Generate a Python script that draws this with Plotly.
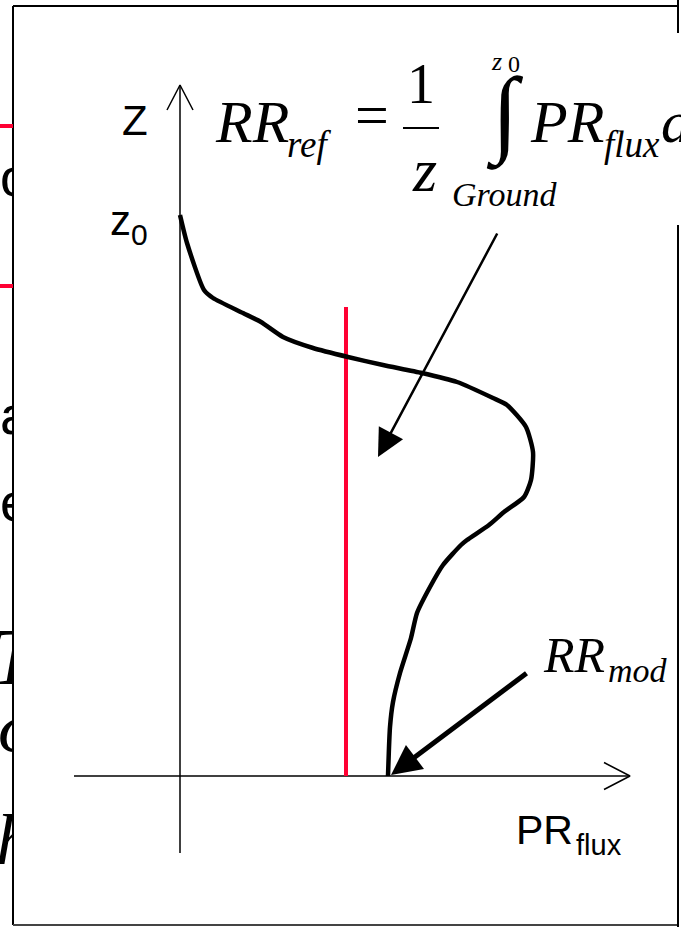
import plotly.graph_objects as go

W, H = 681, 927

# ---- diagram data (diagram units: origin where the PR_flux axis meets the z axis) ----
pr_flux = [0.0, 0.07, 0.24, 0.33, 0.63, 0.81, 1.03, 1.33, 1.68, 2.03, 2.42, 2.77, 3.13, 3.27,
           3.46, 3.53, 3.51, 3.44, 3.24, 3.09, 2.87, 2.81, 2.63, 2.50, 2.37, 2.31, 2.20, 2.13,
           2.10, 2.08]
z_level = [5.61, 5.33, 4.86, 4.78, 4.63, 4.54, 4.39, 4.28, 4.19, 4.11, 4.03, 3.94, 3.78, 3.71,
           3.49, 3.24, 2.96, 2.79, 2.64, 2.51, 2.36, 2.31, 2.11, 1.89, 1.63, 1.38, 1.03, 0.74,
           0.49, 0.0]
rr_ref = 1.66          # vertical red line (reference rain rate)
rr_ref_top = 4.69
pr_axis = [-1.06, 4.50]   # extent of PR_flux axis
z_axis = [-0.77, 6.91]    # extent of z axis

# axis ranges chosen so 1 diagram unit = 100 px
XR = [-1.80, 5.01]
YR = [-1.51, 7.76]

RED = "#FF0033"
SERIF = "Liberation Serif"
SANS = "Liberation Sans"


def P(px, py):
    return px / W, 1 - py / H


fig = go.Figure()

line_k = dict(color="black", width=1.5)
# PR_flux axis with open arrowhead
fig.add_trace(go.Scatter(x=pr_axis, y=[0, 0], mode="lines", line=line_k, hoverinfo="skip"))
fig.add_trace(go.Scatter(x=[pr_axis[1] - 0.26, pr_axis[1], pr_axis[1] - 0.26], y=[0.135, 0, -0.135],
                         mode="lines", line=line_k, hoverinfo="skip"))
# z axis with open arrowhead
fig.add_trace(go.Scatter(x=[0, 0], y=z_axis, mode="lines", line=line_k, hoverinfo="skip"))
fig.add_trace(go.Scatter(x=[-0.13, 0, 0.13], y=[z_axis[1] - 0.25, z_axis[1], z_axis[1] - 0.25],
                         mode="lines", line=line_k, hoverinfo="skip"))
# reference rain rate (red)
fig.add_trace(go.Scatter(x=[rr_ref, rr_ref], y=[0, rr_ref_top], mode="lines",
                         line=dict(color=RED, width=4), hoverinfo="skip"))
# precipitation flux profile
fig.add_trace(go.Scatter(x=pr_flux, y=z_level, mode="lines",
                         line=dict(color="black", width=4.5, shape="spline", smoothing=0.6),
                         hoverinfo="skip"))

# ---- fragments of the slide behind, clipped at the frame's left edge ----
frag_text = ["o", "a", "e", "T", "δ", "h"]
frag_x = [0, 0, 0, -9, -2, -4]
frag_y = [182, 420, 507, 664, 732, 846]
frag_font = [(SANS, 54, False), (SANS, 54, False), (SANS, 54, False),
             (SERIF, 80, True), (SERIF, 76, True), (SERIF, 72, True)]
for t, fx, fy, (fam, sz, it) in zip(frag_text, frag_x, frag_y, frag_font):
    fig.add_trace(go.Scatter(x=[fx], y=[fy], mode="text", text=[f"<i>{t}</i>" if it else t],
                             textposition="middle right", cliponaxis=True,
                             textfont=dict(family=fam, size=sz, color="black"),
                             xaxis="x2", yaxis="y2", hoverinfo="skip"))

fig.update_layout(
    width=W, height=H, margin=dict(l=0, r=0, t=0, b=0),
    paper_bgcolor="white", plot_bgcolor="white", showlegend=False,
    xaxis=dict(range=XR, visible=False, domain=[0, 1]),
    yaxis=dict(range=YR, visible=False, domain=[0, 1]),
    xaxis2=dict(range=[0, 13], visible=False, domain=[0, 13 / W], anchor="y2"),
    yaxis2=dict(range=[H, 0], visible=False, domain=[0, 1], anchor="x2"),
)

shapes = []


def seg(x0, y0, x1, y1, color="black", width=2):
    a, b = P(x0, y0)
    c, d = P(x1, y1)
    shapes.append(dict(type="line", xref="paper", yref="paper", x0=a, y0=b, x1=c, y1=d,
                       line=dict(color=color, width=width)))


# frame
seg(13, 6, 678, 6)
seg(13, 6, 13, 925)
seg(13, 925, 678, 925, color="#444444")
seg(678, 0, 678, 33)
seg(678, 225, 678, 927)
# red dashes of the slide behind
seg(0, 126, 13, 126, color=RED, width=4)
seg(0, 286, 13, 286, color=RED, width=4)
# fraction bar of 1/z
seg(403, 128, 439, 128, width=2)
fig.update_layout(shapes=shapes)

ann = []


def txt(s, px, py, size, family=SERIF, italic=False, xanchor="left"):
    x, y = P(px, py)
    ann.append(dict(text=f"<i>{s}</i>" if italic else s, x=x, y=y, xref="paper", yref="paper",
                    xanchor=xanchor, yanchor="middle", showarrow=False,
                    font=dict(family=family, size=size, color="black")))


def base(py, size):
    return py - 0.35 * size


# axis labels
txt("Z", 120, base(135, 42), 42, SANS)
txt("z", 108, base(235, 42), 42, SANS)
txt("0", 129, base(245, 30), 30, SANS)
txt("PR", 514, base(844, 41), 41, SANS)
txt("flux", 574, base(855, 29), 29, SANS)
# formula RR_ref = 1/z  ∫ PR_flux d
txt("RR", 213, base(143, 60), 60, italic=True)
txt("ref", 285, base(157, 37), 37, italic=True)
txt("=", 372, base(136, 60), 60, xanchor="center")
txt("1", 421, base(104, 56), 56, xanchor="center")
txt("z", 410, base(192, 62), 62, italic=True)
txt("Ground", 450, base(206, 34), 34, italic=True)
txt("<b>∫</b>", 505, base(148, 96), 96, xanchor="center")
txt("z", 489, base(71, 26), 26, italic=True)
txt("0", 506, base(72, 24), 24)
txt("PR", 528, base(143, 60), 60, italic=True)
txt("flux", 602, base(157, 37), 37, italic=True)
txt("d", 659, base(143, 60), 60, italic=True)
# RR_mod label
txt("RR", 541, base(672, 50), 50, italic=True)
txt("mod", 606, base(682, 34), 34, italic=True)

# arrows
tip = P(378, 457)
ann.append(dict(x=tip[0], y=tip[1], xref="paper", yref="paper", ax=498 - 378, ay=232 - 457,
                axref="pixel", ayref="pixel", text="", showarrow=True, arrowhead=2,
                arrowsize=2.2, arrowwidth=2.5, arrowcolor="black", standoff=0))
tip = P(391, 775)
ann.append(dict(x=tip[0], y=tip[1], xref="paper", yref="paper", ax=528 - 391, ay=672 - 775,
                axref="pixel", ayref="pixel", text="", showarrow=True, arrowhead=2,
                arrowsize=1.2, arrowwidth=5, arrowcolor="black", standoff=0))
fig.update_layout(annotations=ann)

fig.write_html("out.html", config={"displayModeBar": False, "staticPlot": True},
               post_script="document.body.style.margin='0';document.body.style.overflow='hidden';")
